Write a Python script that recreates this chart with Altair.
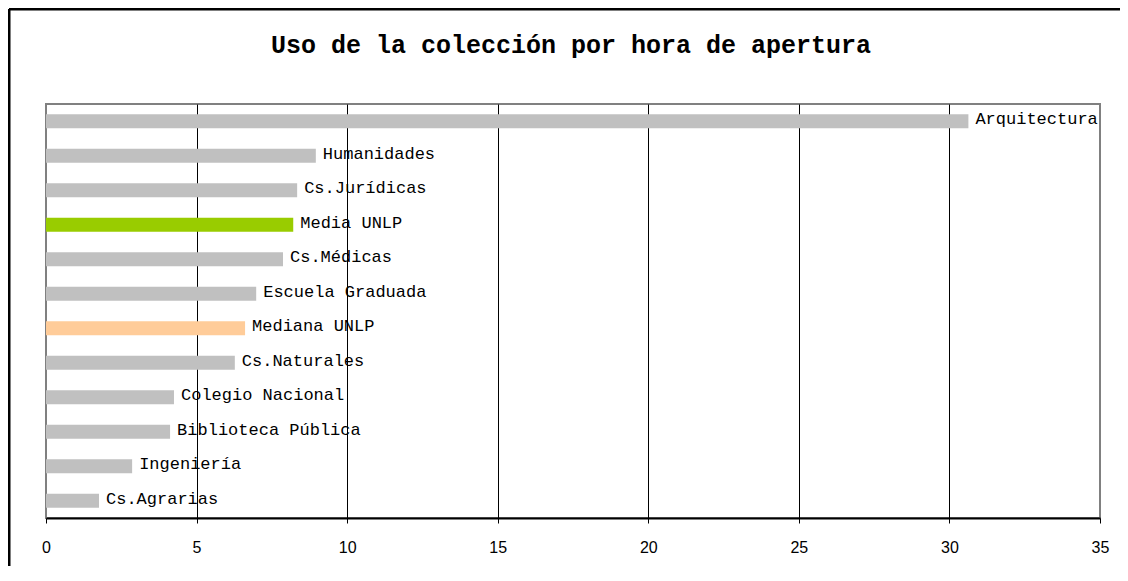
import altair as alt
import pandas as pd

categories = ["Arquitectura", "Humanidades", "Cs.Jurídicas", "Media UNLP", "Cs.Médicas",
              "Escuela Graduada", "Mediana UNLP", "Cs.Naturales", "Colegio Nacional",
              "Biblioteca Pública", "Ingeniería", "Cs.Agrarias"]
values = [30.63, 8.96, 8.34, 8.21, 7.87, 6.98, 6.61, 6.27, 4.25, 4.12, 2.86, 1.76]
bar_colors = ["#C0C0C0", "#C0C0C0", "#C0C0C0", "#99CC00", "#C0C0C0", "#C0C0C0",
              "#FFCC99", "#C0C0C0", "#C0C0C0", "#C0C0C0", "#C0C0C0", "#C0C0C0"]
x_ticks = [0, 5, 10, 15, 20, 25, 30, 35]
title_text = "Uso de la colección por hora de apertura"

df = pd.DataFrame({"cat": categories, "val": values, "col": bar_colors})

W, H = 1054, 414

base = alt.Chart(df)

x_enc = alt.X("val:Q",
              scale=alt.Scale(domain=[0, 35], nice=False, zero=True),
              axis=alt.Axis(values=x_ticks, title=None, labelFont="Liberation Sans",
                            labelFontSize=16, labelColor="black", labelPadding=16,
                            labelFlush=False,
                            tickSize=5, tickColor="black", domainColor="black",
                            domainWidth=2, grid=True,
                            gridColor={"condition": {"test": "datum.value == 0 || datum.value == 35",
                                                     "value": "#808080"},
                                       "value": "black"},
                            gridWidth=1))
y_enc = alt.Y("cat:N", sort=categories, title=None, axis=None,
              scale=alt.Scale(paddingInner=0.6, paddingOuter=0.3))

bars = base.mark_bar(size=14).encode(
    x=x_enc, y=y_enc, color=alt.Color("col:N", scale=None)
)

labels = base.mark_text(align="left", baseline="middle", dx=7, dy=-2,
                        font="Liberation Mono", fontSize=17, color="black").encode(
    x=alt.X("val:Q"), y=alt.Y("cat:N", sort=categories), text="cat:N"
)

frame_df = pd.DataFrame({"a": [0]})
title_df = pd.DataFrame({"t": [title_text]})
title_mark = alt.Chart(title_df).mark_text(
    align="center", baseline="alphabetic", font="Liberation Mono", fontSize=25,
    fontWeight="bold", color="black"
).encode(x=alt.value(W / 2 - 2), y=alt.value(-51), text="t:N")

frame_left = alt.Chart(frame_df).mark_rule(color="black", strokeWidth=3).encode(
    x=alt.value(-37), y=alt.value(-95), y2=alt.value(500)
)
frame_top = alt.Chart(frame_df).mark_rule(color="black", strokeWidth=3).encode(
    x=alt.value(-37), x2=alt.value(1200), y=alt.value(-95)
)

chart = alt.layer(bars, labels, title_mark, frame_left, frame_top).properties(
    width=W, height=H,
    autosize=alt.AutoSizeParams(type="none"),
    padding={"left": 38, "top": 96, "right": 20, "bottom": 48},
    background="white",
).configure_view(stroke="#808080", strokeWidth=2)

chart.save("out.html", embed_options={"renderer": "svg", "actions": False})
